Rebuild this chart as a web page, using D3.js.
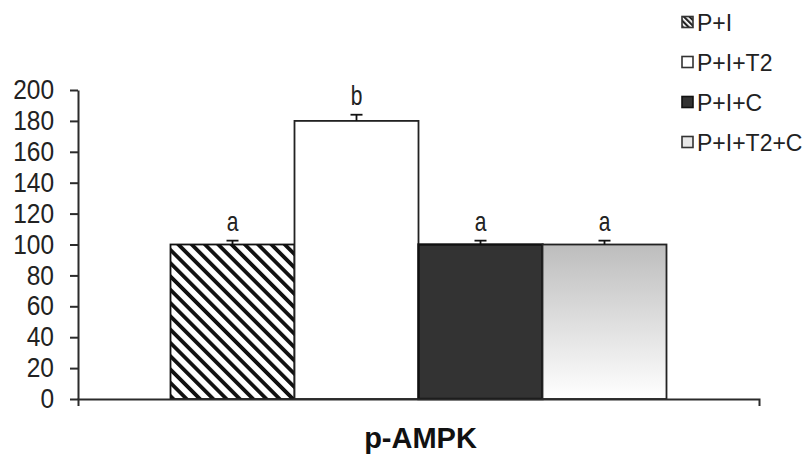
<!DOCTYPE html>
<html>
<head>
<meta charset="utf-8">
<script src="https://cdn.jsdelivr.net/npm/d3@7"></script>
<style>
  html, body { margin: 0; padding: 0; background: #fff; }
  svg { display: block; font-family: "Liberation Sans", Arial, sans-serif; }
</style>
</head>
<body>
<svg id="chart" width="807" height="459"></svg>
<script>
// Data
const categories = ["p-AMPK"];
const seriesNames = ["P+I", "P+I+T2", "P+I+C", "P+I+T2+C"];
const seriesValues = [100, 180, 100, 100];
const seriesErrors = [2.5, 4, 2.5, 2.5];
const significance = ["a", "b", "a", "a"];
const yTicks = [0, 20, 40, 60, 80, 100, 120, 140, 160, 180, 200];

const svg = d3.select("#chart");
const axisColor = "#2b2b2b";

// Fills
const defs = svg.append("defs");
const hatch = defs.append("pattern")
  .attr("id", "hatch").attr("patternUnits", "userSpaceOnUse")
  .attr("width", 9.4).attr("height", 9.4)
  .attr("patternTransform", "rotate(-45)");
hatch.append("rect").attr("width", 9.4).attr("height", 9.4).attr("fill", "#fff");
hatch.append("rect").attr("width", 3.8).attr("height", 9.4).attr("fill", "#111");

const hatchSmall = defs.append("pattern")
  .attr("id", "hatchSmall").attr("patternUnits", "userSpaceOnUse")
  .attr("width", 4).attr("height", 4)
  .attr("patternTransform", "rotate(-45)");
hatchSmall.append("rect").attr("width", 4).attr("height", 4).attr("fill", "#fff");
hatchSmall.append("rect").attr("width", 2.2).attr("height", 4).attr("fill", "#222");

const grad = defs.append("linearGradient")
  .attr("id", "fade").attr("x1", 0).attr("y1", 0).attr("x2", 0).attr("y2", 1);
grad.append("stop").attr("offset", "0%").attr("stop-color", "#bdbdbd");
grad.append("stop").attr("offset", "100%").attr("stop-color", "#ffffff");

const fills = ["url(#hatch)", "#ffffff", "#333333", "url(#fade)"];
const legendFills = ["url(#hatchSmall)", "#ffffff", "#333333", "#e8e8e8"];
const strokes = ["#111", "#222", "#111", "#222"];

// Scales
const y = d3.scaleLinear().domain([0, 200]).range([399, 90]);
const x0 = d3.scaleBand().domain(categories).range([78, 759])
  .paddingInner(0).paddingOuter(0.1865);
const x1 = d3.scaleBand().domain(seriesNames).range([0, x0.bandwidth()]).padding(0);

// Y axis
const yAxis = svg.append("g")
  .attr("transform", "translate(78,0)")
  .call(d3.axisLeft(y).tickValues(yTicks).tickSize(8).tickSizeOuter(0).tickPadding(16));
yAxis.select(".domain").attr("stroke", axisColor).attr("stroke-width", 2);
yAxis.selectAll(".tick line").attr("stroke", axisColor).attr("stroke-width", 2);
yAxis.selectAll(".tick text")
  .attr("fill", "#222")
  .attr("font-size", 24.5)
  .attr("transform", "scale(1,1.1)")
  .attr("font-family", "'Liberation Sans', Arial, sans-serif");

// Bars
const rows = seriesNames.map((s, i) => ({ s, i, v: seriesValues[i], e: seriesErrors[i] }));
const g = svg.append("g").attr("transform", `translate(${x0(categories[0])},0)`);

g.selectAll("rect.bar").data(rows).join("rect")
  .attr("class", "bar")
  .attr("x", d => x1(d.s))
  .attr("y", d => y(d.v))
  .attr("width", x1.bandwidth())
  .attr("height", d => y(0) - y(d.v))
  .attr("fill", d => fills[d.i])
  .attr("stroke", d => strokes[d.i])
  .attr("stroke-width", d => d.i === 2 ? 2.4 : 1.8);

// Error bars (upper)
const cap = 6;
g.selectAll("line.err").data(rows).join("line")
  .attr("class", "err")
  .attr("x1", d => x1(d.s) + x1.bandwidth() / 2)
  .attr("x2", d => x1(d.s) + x1.bandwidth() / 2)
  .attr("y1", d => y(d.v))
  .attr("y2", d => y(d.v + d.e))
  .attr("stroke", "#111").attr("stroke-width", 1.8);
g.selectAll("line.cap").data(rows).join("line")
  .attr("class", "cap")
  .attr("x1", d => x1(d.s) + x1.bandwidth() / 2 - cap)
  .attr("x2", d => x1(d.s) + x1.bandwidth() / 2 + cap)
  .attr("y1", d => y(d.v + d.e))
  .attr("y2", d => y(d.v + d.e))
  .attr("stroke", "#111").attr("stroke-width", 1.8);

// Significance letters
g.selectAll("text.sig").data(rows).join("text")
  .attr("class", "sig")
  .attr("transform", d => `translate(${x1(d.s) + x1.bandwidth() / 2},${y(d.v + d.e) - 10}) scale(1,1.3)`)
  .attr("text-anchor", "middle")
  .attr("font-size", 21)
  .attr("fill", "#222")
  .text(d => significance[d.i]);

// X axis with end ticks
const xAxis = svg.append("g")
  .attr("transform", `translate(0,${y(0)})`)
  .call(d3.axisBottom(x0).tickSize(0).tickSizeOuter(7).tickPadding(0));
xAxis.select(".domain").attr("stroke", axisColor).attr("stroke-width", 2);
xAxis.selectAll(".tick text")
  .attr("y", 49).attr("dy", 0)
  .attr("dx", 2)
  .attr("fill", "#111")
  .attr("font-size", 29)
  .attr("font-weight", "bold")
  .attr("font-family", "'Liberation Sans', Arial, sans-serif");

// Legend
const legend = svg.append("g");
const items = legend.selectAll("g").data(rows).join("g")
  .attr("transform", d => `translate(682,${22 + d.i * 40})`);
items.append("rect")
  .attr("x", 0).attr("y", -5.5).attr("width", 11).attr("height", 11)
  .attr("fill", d => legendFills[d.i])
  .attr("stroke", d => d.i === 2 ? "#111" : "#333")
  .attr("stroke-width", 1.6);
items.append("text")
  .attr("x", 15).attr("y", 0).attr("dy", "0.36em")
  .attr("font-size", 23)
  .attr("transform", "scale(1,1.05)")
  .attr("fill", "#222")
  .text(d => d.s);
</script>
</body>
</html>
